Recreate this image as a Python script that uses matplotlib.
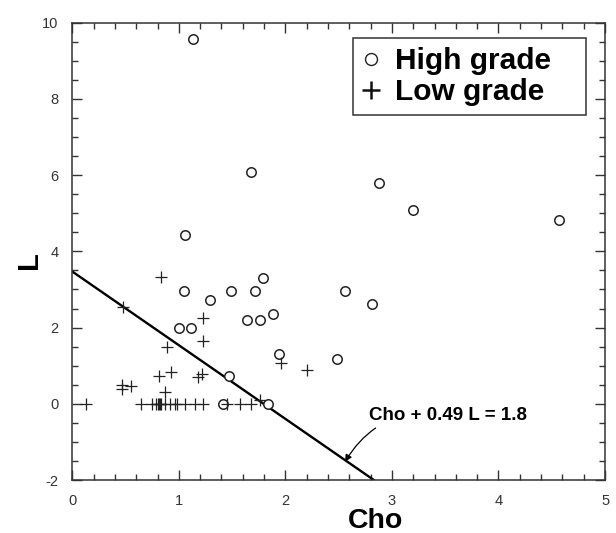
import matplotlib
matplotlib.use("Agg")
import matplotlib.pyplot as plt
from matplotlib.lines import Line2D

plt.rcParams['font.family'] = ['Liberation Sans', 'DejaVu Sans']
plt.rcParams['axes.unicode_minus'] = False

# high grade samples (Cho, L)
high_cho = [1.13, 1.68, 1.06, 2.88, 3.20, 4.57, 1.05, 1.29, 1.485, 1.71, 1.79,
            1.00, 1.11, 1.635, 1.76, 1.886, 1.94, 1.475, 1.41, 1.835, 2.48,
            2.56, 2.81]
high_L = [9.57, 6.09, 4.42, 5.80, 5.09, 4.81, 2.97, 2.72, 2.97, 2.97, 3.29,
          2.00, 2.00, 2.20, 2.20, 2.36, 1.31, 0.74, 0.0, 0.0, 1.17,
          2.97, 2.62]

# low grade samples (Cho, L)
low_cho = [0.83, 0.476, 1.23, 1.23, 0.89, 0.815, 0.93, 1.18, 1.22, 0.467,
           0.55, 0.467, 0.87, 1.96, 2.20,
           0.13, 0.64, 0.745, 0.79, 0.80, 0.81, 0.82, 0.83, 0.87, 0.92, 0.96,
           0.98, 1.06, 1.15, 1.23, 1.45, 1.575, 1.68, 1.76]
low_L = [3.32, 2.55, 2.24, 1.66, 1.48, 0.73, 0.84, 0.71, 0.77, 0.49,
         0.47, 0.38, 0.32, 1.06, 0.89,
         0.0, 0.0, 0.0, 0.0, 0.0, 0.0, 0.0, 0.0, 0.0, 0.0, 0.0,
         0.0, 0.0, 0.0, 0.0, 0.0, 0.0, 0.0, 0.1]

# discriminant line as drawn
line_cho = [0.0, 2.83]
line_L = [3.47, -2.0]
line_label = "Cho + 0.49 L = 1.8"

fig = plt.figure(figsize=(6.16, 5.33), dpi=100)
ax = fig.add_axes([0.1174, 0.0994, 0.8648, 0.858])

ax.plot(high_cho, high_L, 'o', ms=6.8, mfc='white', mec='#222222', mew=1.1,
        linestyle='none', zorder=3)
ax.plot(low_cho, low_L, '+', ms=8.5, color='#222222', mew=0.9,
        linestyle='none', zorder=3)
ax.plot(line_cho, line_L, '-', color='black', lw=1.7, zorder=2)

ax.annotate(line_label, xy=(2.56, -1.52), xytext=(2.78, -0.32),
            fontsize=13.5, fontweight='bold', ha='left', va='center',
            arrowprops=dict(arrowstyle='-|>', color='black', lw=0.9,
                            mutation_scale=10, shrinkA=1, shrinkB=0,
                            connectionstyle='arc3,rad=0.35'))

ax.set_xlim(0, 5)
ax.set_ylim(-2, 10)
ax.set_xticks([0, 1, 2, 3, 4, 5])
ax.set_yticks([-2, 0, 2, 4, 6, 8, 10])
ax.set_xticks([i * 0.2 for i in range(26)], minor=True)
ax.set_yticks([-2 + i * 0.5 for i in range(25)], minor=True)
ax.tick_params(which='both', direction='in', top=True, right=True,
               color='#333333', width=1)
ax.tick_params(which='major', length=7, labelsize=10.5, labelcolor='#333333',
               pad=10)
ax.tick_params(which='minor', length=4)
for s in ax.spines.values():
    s.set_linewidth(1.1)
    s.set_color('#333333')

ax.set_xlabel('Cho', fontsize=20.5, fontweight='bold')
ax.xaxis.set_label_coords(0.570, -0.062)
ax.set_ylabel('L', fontsize=21, fontweight='bold')
ax.yaxis.set_label_coords(-0.055, 0.48)

handles = [Line2D([], [], marker='o', ms=8.6, mfc='white', mec='#222222',
                  mew=1.0, linestyle='none'),
           Line2D([], [], marker='+', ms=13, color='#111111', mew=1.8,
                  linestyle='none')]
leg = ax.legend(handles, ['High grade', 'Low grade'], loc='upper left',
                bbox_to_anchor=(0.5264, 0.78, 0.438, 0.1865), mode='expand',
                borderaxespad=0, fancybox=False, edgecolor='#333333',
                framealpha=1, prop={'size': 21.5, 'weight': 'bold'},
                handlelength=0.6, handletextpad=0.5, borderpad=0.3,
                labelspacing=0.1)
leg.get_frame().set_linewidth(1.1)

fig.savefig('out.png', dpi=100)
